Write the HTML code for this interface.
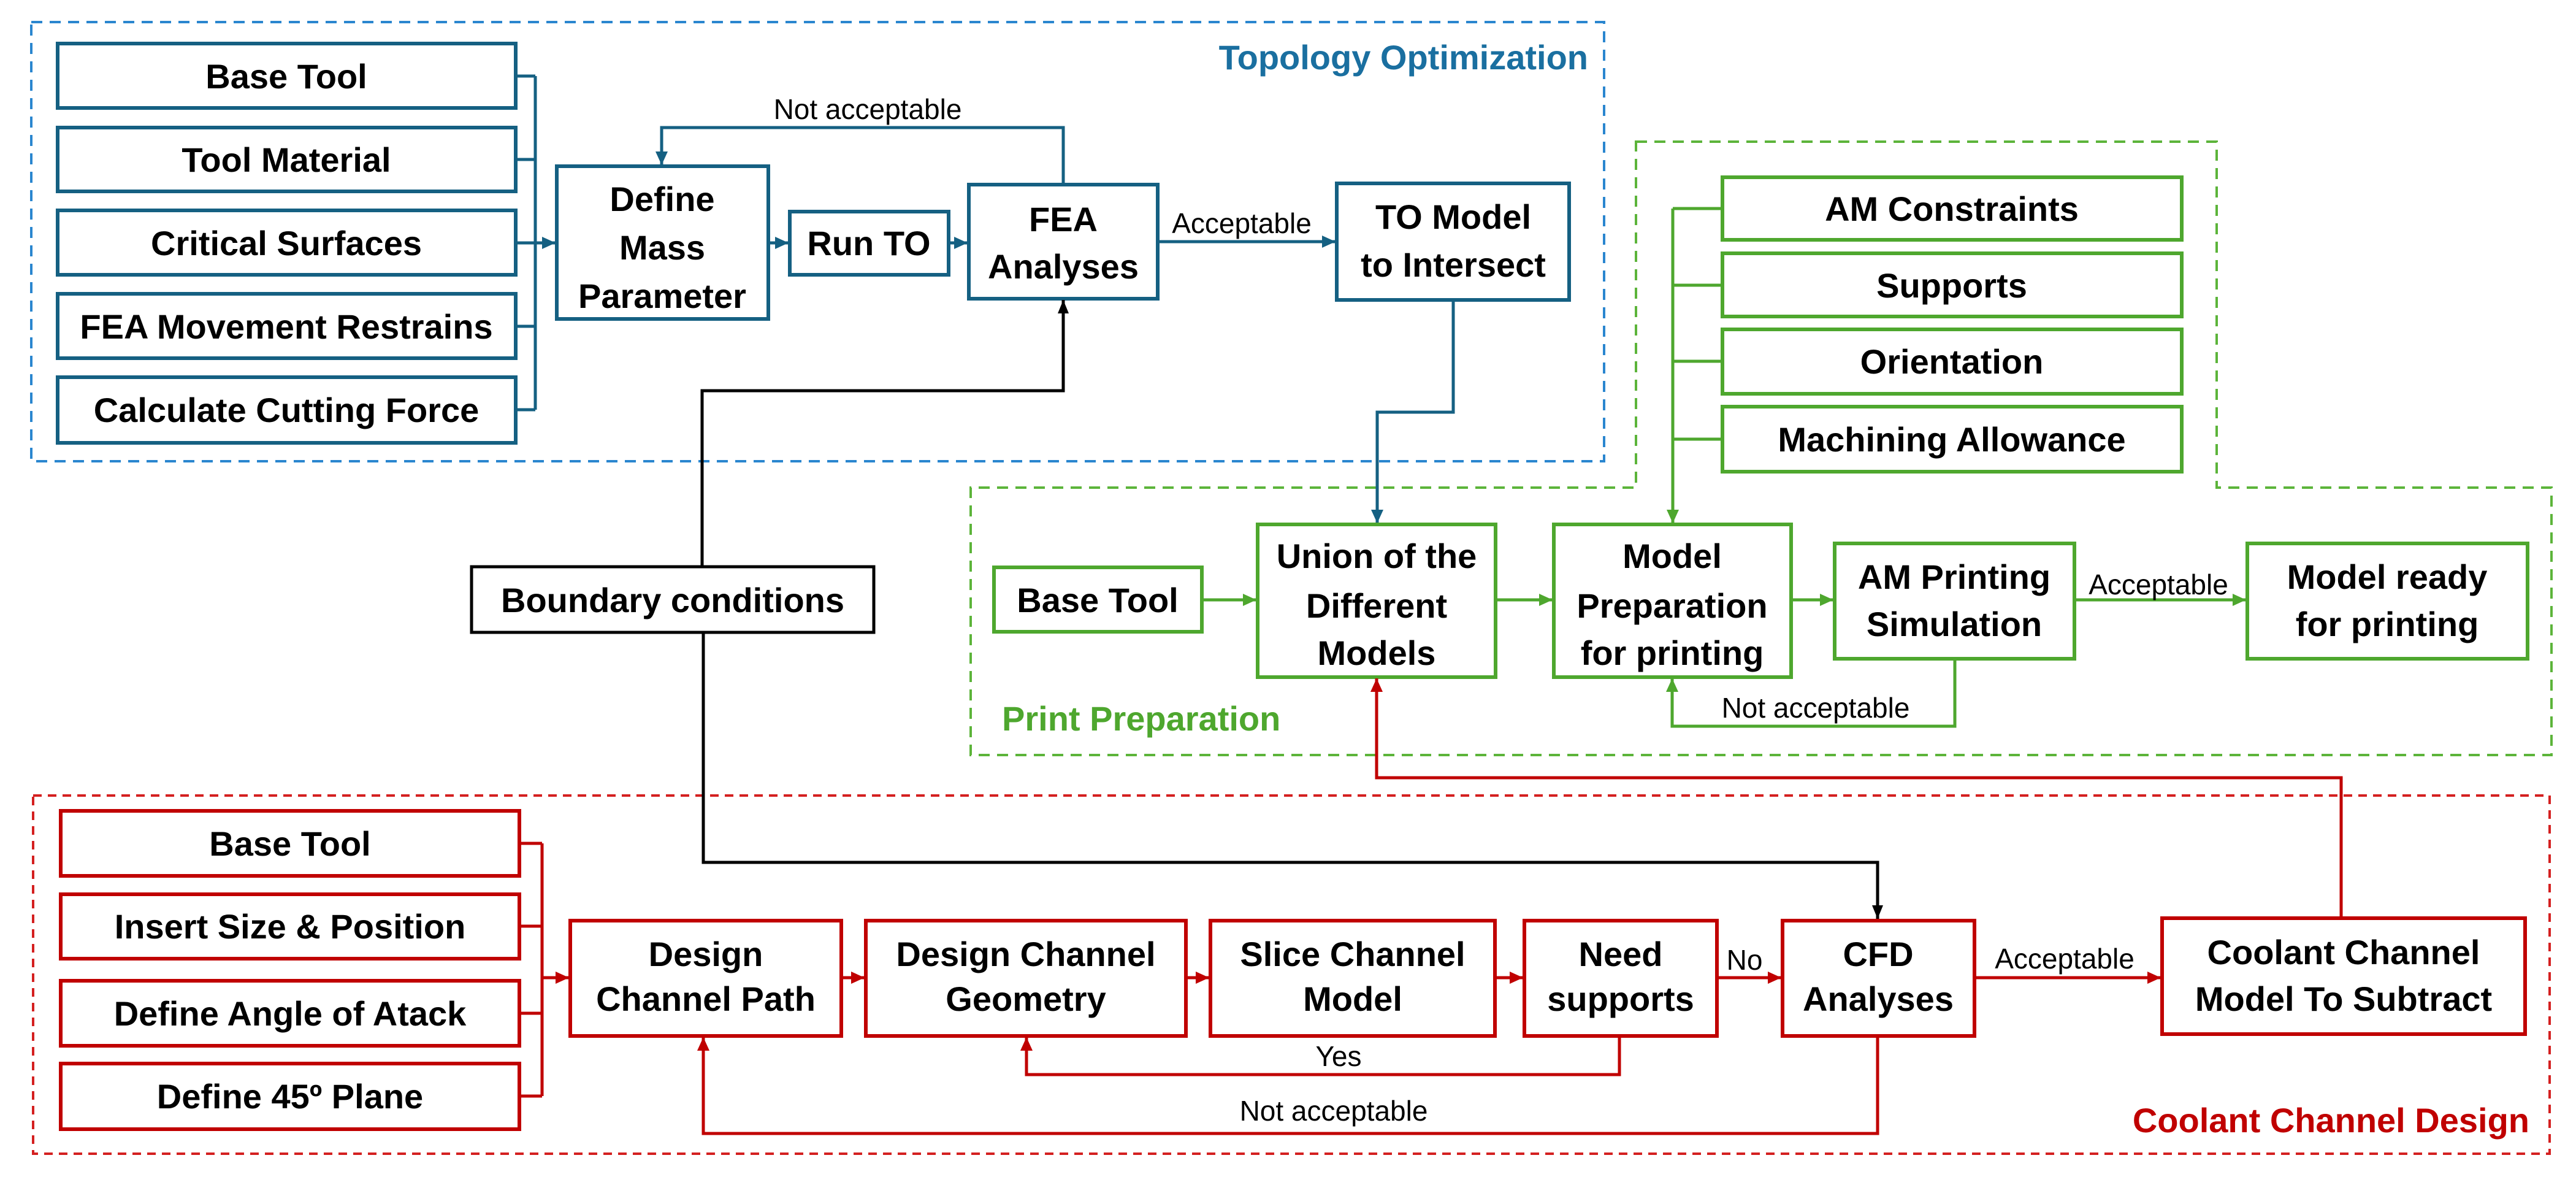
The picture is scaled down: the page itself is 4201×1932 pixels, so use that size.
<!DOCTYPE html>
<html><head><meta charset="utf-8"><style>
html,body{margin:0;padding:0;background:#fff;}
svg{display:block;}
text{font-family:"Liberation Sans",sans-serif;}
.b{font-weight:bold;font-size:56px;fill:#000;text-anchor:middle;}
.l{font-size:46px;fill:#000;text-anchor:middle;}
</style></head><body>
<svg width="4201" height="1932" viewBox="0 0 4201 1932" xmlns="http://www.w3.org/2000/svg">
<defs>
<marker id="ab" markerUnits="userSpaceOnUse" markerWidth="24" markerHeight="24" refX="22" refY="12" orient="auto"><path d="M0,2 L22,12 L0,22 z" fill="#156082"/></marker>
<marker id="ag" markerUnits="userSpaceOnUse" markerWidth="24" markerHeight="24" refX="22" refY="12" orient="auto"><path d="M0,2 L22,12 L0,22 z" fill="#4ea72e"/></marker>
<marker id="ar" markerUnits="userSpaceOnUse" markerWidth="24" markerHeight="24" refX="22" refY="12" orient="auto"><path d="M0,2 L22,12 L0,22 z" fill="#c00000"/></marker>
<marker id="ak" markerUnits="userSpaceOnUse" markerWidth="24" markerHeight="24" refX="22" refY="12" orient="auto"><path d="M0,3 L22,12 L0,21 z" fill="#000"/></marker>
</defs>

<!-- dashed containers -->
<rect x="51" y="36" width="2565" height="716" fill="none" stroke="#2a86cf" stroke-width="4" stroke-dasharray="18 12"/>
<path d="M2668 231 H3615 V795 H4161 V1231 H1583 V795 H2668 Z" fill="none" stroke="#5cb43a" stroke-width="4" stroke-dasharray="18 12"/>
<rect x="54" y="1297" width="4104" height="584" fill="none" stroke="#d42020" stroke-width="4" stroke-dasharray="14 10"/>

<text x="2590" y="113" font-size="56" font-weight="bold" fill="#1a6fa0" text-anchor="end">Topology Optimization</text>
<text x="1634" y="1191" font-size="56" font-weight="bold" fill="#4ea72e">Print Preparation</text>
<text x="4125" y="1846" font-size="56" font-weight="bold" fill="#c00000" text-anchor="end">Coolant Channel Design</text>

<!-- BLUE -->
<g fill="#fff" stroke="#156082" stroke-width="6">
<rect x="94" y="71" width="747" height="105"/>
<rect x="94" y="208" width="747" height="104"/>
<rect x="94" y="343" width="747" height="105"/>
<rect x="94" y="479" width="747" height="105"/>
<rect x="94" y="615" width="747" height="107"/>
<rect x="908" y="271" width="345" height="249"/>
<rect x="1288" y="345" width="259" height="103"/>
<rect x="1580" y="301" width="308" height="186"/>
<rect x="2180" y="299" width="379" height="190"/>
</g>
<g fill="none" stroke="#156082" stroke-width="5">
<path d="M841 124 H873 M841 260 H873 M841 396 H873 M841 532 H873 M841 668 H873 M873 124 V668"/>
<path d="M873 396 H906" marker-end="url(#ab)"/>
<path d="M1253 396 H1286" marker-end="url(#ab)"/>
<path d="M1547 396 H1578" marker-end="url(#ab)"/>
<path d="M1734 301 V208 H1079 V269" marker-end="url(#ab)"/>
<path d="M1888 394 H2178" marker-end="url(#ab)"/>
<path d="M2370 489 V672 H2246 V853" marker-end="url(#ab)"/>
</g>
<text class="b" x="467" y="144">Base Tool</text>
<text class="b" x="467" y="280">Tool Material</text>
<text class="b" x="467" y="416">Critical Surfaces</text>
<text class="b" x="467" y="552">FEA Movement Restrains</text>
<text class="b" x="467" y="688">Calculate Cutting Force</text>
<text class="b" x="1080" y="344">Define</text>
<text class="b" x="1080" y="423">Mass</text>
<text class="b" x="1080" y="502">Parameter</text>
<text class="b" x="1417" y="416">Run TO</text>
<text class="b" x="1734" y="377">FEA</text>
<text class="b" x="1734" y="454">Analyses</text>
<text class="b" x="2370" y="373">TO Model</text>
<text class="b" x="2370" y="451">to Intersect</text>
<text class="l" x="1415" y="194">Not acceptable</text>
<text class="l" x="2025" y="380">Acceptable</text>

<!-- BLACK -->
<rect x="769" y="924" width="656" height="107" fill="#fff" stroke="#000" stroke-width="5"/>
<text class="b" x="1097" y="998">Boundary conditions</text>
<g fill="none" stroke="#000" stroke-width="5">
<path d="M1145 924 V637 H1734 V489" marker-end="url(#ak)"/>
<path d="M1147 1031 V1406 H3062 V1498" marker-end="url(#ak)"/>
</g>

<!-- GREEN -->
<g fill="#fff" stroke="#4ea72e" stroke-width="6">
<rect x="2809" y="289" width="749" height="102"/>
<rect x="2809" y="413" width="749" height="103"/>
<rect x="2809" y="537" width="749" height="105"/>
<rect x="2809" y="663" width="749" height="106"/>
<rect x="1621" y="925" width="339" height="105"/>
<rect x="2051" y="855" width="388" height="249"/>
<rect x="2534" y="855" width="387" height="249"/>
<rect x="2992" y="886" width="391" height="188"/>
<rect x="3665" y="886" width="457" height="188"/>
</g>
<g fill="none" stroke="#4ea72e" stroke-width="5">
<path d="M2728 340 H2809 M2728 465 H2809 M2728 589 H2809 M2728 716 H2809"/>
<path d="M2728 340 V853" marker-end="url(#ag)"/>
<path d="M1960 978 H2049" marker-end="url(#ag)"/>
<path d="M2439 978 H2532" marker-end="url(#ag)"/>
<path d="M2921 978 H2990" marker-end="url(#ag)"/>
<path d="M3383 978 H3663" marker-end="url(#ag)"/>
<path d="M3188 1074 V1184 H2727 V1106" marker-end="url(#ag)"/>
</g>
<text class="b" x="3183" y="360">AM Constraints</text>
<text class="b" x="3183" y="485">Supports</text>
<text class="b" x="3183" y="609">Orientation</text>
<text class="b" x="3183" y="736">Machining Allowance</text>
<text class="b" x="1790" y="998">Base Tool</text>
<text class="b" x="2245" y="926">Union of the</text>
<text class="b" x="2245" y="1007">Different</text>
<text class="b" x="2245" y="1084">Models</text>
<text class="b" x="2727" y="926">Model</text>
<text class="b" x="2727" y="1007">Preparation</text>
<text class="b" x="2727" y="1084">for printing</text>
<text class="b" x="3187" y="960">AM Printing</text>
<text class="b" x="3187" y="1037">Simulation</text>
<text class="b" x="3893" y="960">Model ready</text>
<text class="b" x="3893" y="1037">for printing</text>
<text class="l" x="3520" y="969">Acceptable</text>
<text class="l" x="2961" y="1170">Not acceptable</text>

<!-- RED -->
<g fill="#fff" stroke="#c00000" stroke-width="6">
<rect x="99" y="1322" width="748" height="106"/>
<rect x="99" y="1458" width="748" height="105"/>
<rect x="99" y="1599" width="748" height="106"/>
<rect x="99" y="1734" width="748" height="107"/>
<rect x="930" y="1501" width="442" height="188"/>
<rect x="1412" y="1501" width="522" height="188"/>
<rect x="1974" y="1501" width="464" height="188"/>
<rect x="2486" y="1501" width="314" height="188"/>
<rect x="2907" y="1501" width="313" height="188"/>
<rect x="3526" y="1497" width="592" height="189"/>
</g>
<g fill="none" stroke="#c00000" stroke-width="5">
<path d="M847 1375 H884 M847 1510 H884 M847 1652 H884 M847 1787 H884 M884 1375 V1787"/>
<path d="M884 1594 H928" marker-end="url(#ar)"/>
<path d="M1372 1594 H1410" marker-end="url(#ar)"/>
<path d="M1934 1594 H1972" marker-end="url(#ar)"/>
<path d="M2438 1594 H2484" marker-end="url(#ar)"/>
<path d="M2800 1594 H2905" marker-end="url(#ar)"/>
<path d="M3220 1594 H3524" marker-end="url(#ar)"/>
<path d="M2641 1689 V1752 H1674 V1691" marker-end="url(#ar)"/>
<path d="M3062 1689 V1848 H1147 V1691" marker-end="url(#ar)"/>
<path d="M3818 1497 V1268 H2245 V1106" marker-end="url(#ar)"/>
</g>
<text class="b" x="473" y="1395">Base Tool</text>
<text class="b" x="473" y="1530">Insert Size &amp; Position</text>
<text class="b" x="473" y="1672">Define Angle of Atack</text>
<text class="b" x="473" y="1807">Define 45º Plane</text>
<text class="b" x="1151" y="1575">Design</text>
<text class="b" x="1151" y="1648">Channel Path</text>
<text class="b" x="1673" y="1575">Design Channel</text>
<text class="b" x="1673" y="1648">Geometry</text>
<text class="b" x="2206" y="1575">Slice Channel</text>
<text class="b" x="2206" y="1648">Model</text>
<text class="b" x="2643" y="1575">Need</text>
<text class="b" x="2643" y="1648">supports</text>
<text class="b" x="3063" y="1575">CFD</text>
<text class="b" x="3063" y="1648">Analyses</text>
<text class="b" x="3822" y="1572">Coolant Channel</text>
<text class="b" x="3822" y="1648">Model To Subtract</text>
<text class="l" x="2845" y="1581">No</text>
<text class="l" x="3367" y="1579">Acceptable</text>
<text class="l" x="2183" y="1738">Yes</text>
<text class="l" x="2175" y="1827">Not acceptable</text>
</svg>
</body></html>
